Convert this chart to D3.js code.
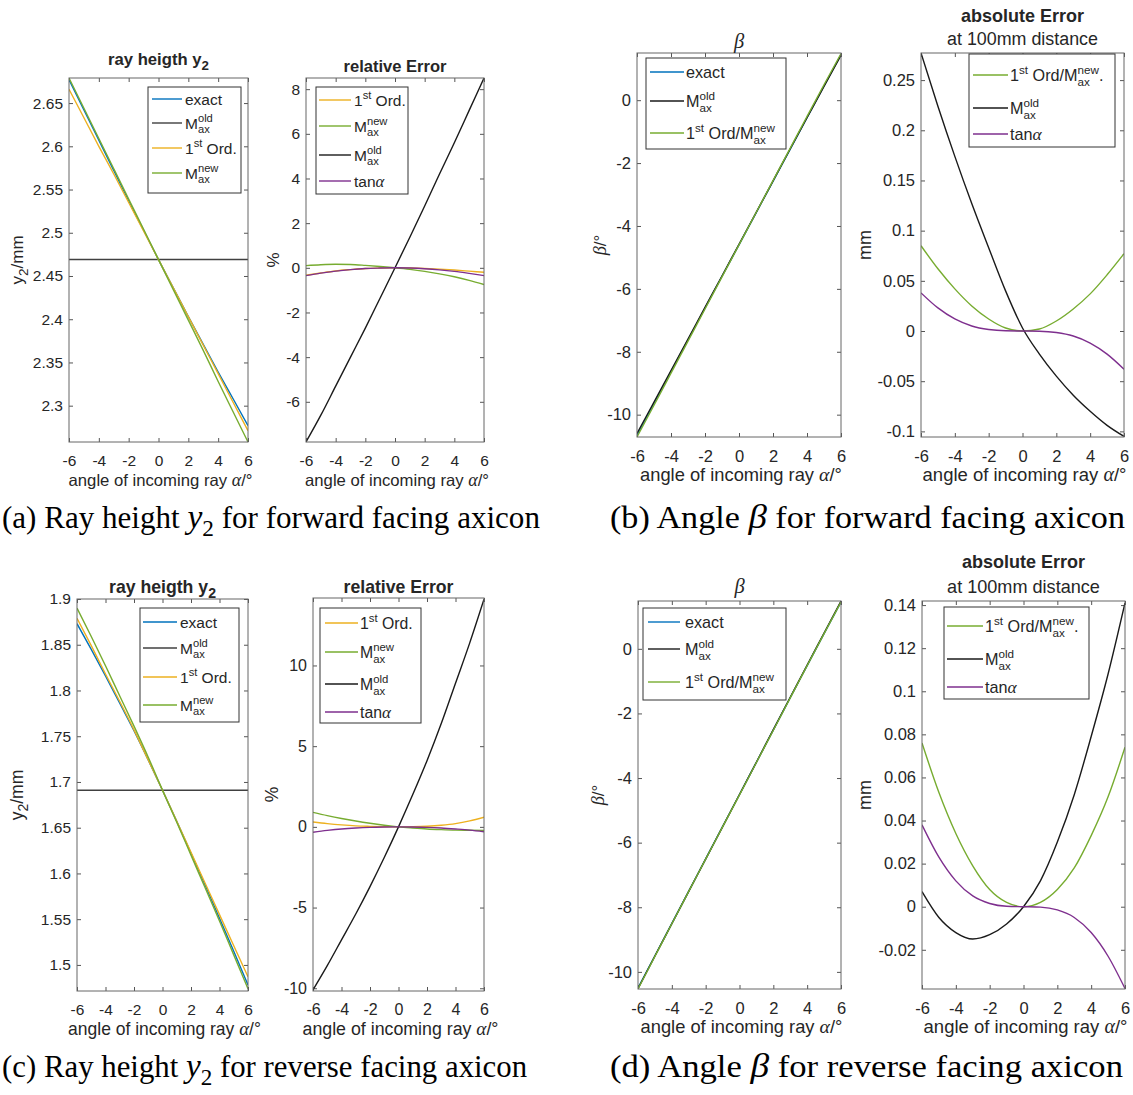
<!DOCTYPE html>
<html><head><meta charset="utf-8">
<script src="https://cdn.jsdelivr.net/npm/d3@7"></script>
<style>body{margin:0;background:#fff}svg{display:block}svg text{white-space:pre}</style>
</head><body>
<svg id="c" width="1133" height="1095"></svg>
<script>
// ---------------- DATA ----------------
const alpha = [-6,-5,-4,-3,-2,-1,0,1,2,3,4,5,6];
const xTicks = [-6,-4,-2,0,2,4,6];

// (a) forward facing axicon: ray height y2 / mm
const fwdY2Exact = [2.677,2.642,2.607,2.572,2.537,2.503,2.469,2.436,2.403,2.371,2.339,2.308,2.277];
const fwdY2Old   = [2.469,2.469,2.469,2.469,2.469,2.469,2.469,2.469,2.469,2.469,2.469,2.469,2.469];
const fwdY2First = [2.666,2.633,2.600,2.568,2.535,2.502,2.469,2.436,2.403,2.370,2.337,2.304,2.271];
const fwdY2New   = [2.679,2.644,2.609,2.574,2.539,2.504,2.469,2.434,2.399,2.364,2.328,2.293,2.258];
const fwdY2Ticks = [2.3,2.35,2.4,2.45,2.5,2.55,2.6,2.65];
// (a) relative error %
const fwdRelFirst = [-0.33,-0.23,-0.14,-0.08,-0.03,-0.01,0,-0.01,-0.03,-0.06,-0.10,-0.15,-0.20];
const fwdRelNew   = [0.10,0.14,0.16,0.15,0.11,0.06,0,-0.07,-0.16,-0.27,-0.40,-0.56,-0.75];
const fwdRelOld   = [-7.8,-6.6,-5.3,-4.0,-2.7,-1.35,0,1.37,2.77,4.2,5.6,7.05,8.5];
const fwdRelTan   = [-0.35,-0.24,-0.15,-0.08,-0.03,-0.01,0,-0.01,-0.04,-0.09,-0.16,-0.25,-0.35];
const fwdRelTicks = [-6,-4,-2,0,2,4,6,8];
// (b) forward facing axicon: beta / deg
const fwdBetaExact = [-10.65,-9.64,-8.63,-7.62,-6.61,-5.60,-4.60,-3.59,-2.58,-1.57,-0.56,0.45,1.45];
const fwdBetaOld   = [-10.60,-9.60,-8.60,-7.60,-6.59,-5.59,-4.58,-3.58,-2.57,-1.56,-0.56,0.44,1.43];
const fwdBetaNew   = [-10.71,-9.70,-8.68,-7.66,-6.64,-5.62,-4.60,-3.58,-2.56,-1.54,-0.52,0.49,1.48];
const fwdBetaTicks = [-10,-8,-6,-4,-2,0];
// (b) absolute error mm at 100mm
const fwdAbsNew = [0.085,0.062,0.042,0.025,0.012,0.003,0,0.002,0.010,0.022,0.037,0.056,0.077];
const fwdAbsOld = [0.277,0.224,0.174,0.127,0.083,0.040,0.003,-0.023,-0.045,-0.064,-0.080,-0.094,-0.105];
const fwdAbsTan = [0.038,0.023,0.012,0.005,0.0015,0.0002,0,-0.0002,-0.0015,-0.005,-0.012,-0.023,-0.038];
const fwdAbsTicks = [-0.1,-0.05,0,0.05,0.1,0.15,0.2,0.25];

// (c) reverse facing axicon: ray height y2 / mm
const revY2Exact = [1.873,1.845,1.816,1.786,1.756,1.724,1.691,1.657,1.622,1.587,1.551,1.515,1.478];
const revY2Old   = [1.691,1.691,1.691,1.691,1.691,1.691,1.691,1.691,1.691,1.691,1.691,1.691,1.691];
const revY2First = [1.879,1.849,1.818,1.788,1.757,1.724,1.691,1.657,1.623,1.589,1.555,1.521,1.487];
const revY2New   = [1.890,1.859,1.827,1.794,1.761,1.727,1.691,1.656,1.620,1.584,1.548,1.511,1.474];
const revY2Ticks = [1.5,1.55,1.6,1.65,1.7,1.75,1.8,1.85,1.9];
// (c) relative error %
const revRelFirst = [0.30,0.20,0.12,0.06,0.03,0.01,0,0.01,0.04,0.10,0.20,0.37,0.60];
const revRelNew   = [0.90,0.70,0.52,0.36,0.22,0.10,0,-0.07,-0.13,-0.17,-0.20,-0.21,-0.22];
const revRelOld   = [-10.1,-8.6,-7.0,-5.4,-3.7,-1.9,0,2.0,4.1,6.4,8.9,11.4,14.1];
const revRelTan   = [-0.33,-0.22,-0.13,-0.07,-0.03,-0.01,0,-0.01,-0.03,-0.07,-0.13,-0.20,-0.30];
const revRelTicks = [-10,-5,0,5,10];
// (d) reverse facing axicon: beta / deg
const revBetaExact = [-10.50,-9.50,-8.50,-7.50,-6.50,-5.50,-4.51,-3.51,-2.51,-1.51,-0.52,0.47,1.45];
const revBetaOld   = [-10.52,-9.51,-8.51,-7.51,-6.51,-5.51,-4.51,-3.51,-2.50,-1.50,-0.50,0.49,1.48];
const revBetaNew   = [-10.53,-9.52,-8.51,-7.51,-6.51,-5.51,-4.52,-3.52,-2.52,-1.52,-0.52,0.47,1.45];
const revBetaTicks = [-10,-8,-6,-4,-2,0];
// (d) absolute error mm at 100mm
const revAbsNew = [0.076,0.053,0.034,0.019,0.008,0.002,0,0.002,0.008,0.018,0.033,0.051,0.074];
const revAbsOld = [0.007,-0.005,-0.012,-0.015,-0.013,-0.008,0,0.012,0.030,0.052,0.079,0.108,0.141];
const revAbsTan = [0.038,0.023,0.012,0.005,0.0015,0.0002,0,-0.0002,-0.0015,-0.005,-0.012,-0.023,-0.038];
const revAbsTicks = [-0.02,0,0.02,0.04,0.06,0.08,0.1,0.12,0.14];

// legend labels (rich text segments)
const lblExact = [{t:"exact"}];
const lblOld   = [{t:"M"},{sup:"old",sub:"ax"}];
const lblNew   = [{t:"M"},{sup:"new",sub:"ax"}];
const lblFirst = [{t:"1"},{sup:"st"},{t:" Ord."}];
const lblFirstNew = [{t:"1"},{sup:"st"},{t:" Ord/M"},{sup:"new",sub:"ax"}];
const lblFirstNewDot = [{t:"1"},{sup:"st"},{t:" Ord/M"},{sup:"new",sub:"ax"},{t:"."}];
const lblTan   = [{t:"tan"},{it:"α"}];

// ---------------- STYLE ----------------
const C = {blue:"#0072BD", yellow:"#EDB120", green:"#77AC30", purple:"#7E2F8E", black:"#1a1a1a"};
const SANS = "'Liberation Sans', Arial, Helvetica, sans-serif";
const SERIF = "'Liberation Serif', 'Times New Roman', serif";
const TXT = "#262626";

const svg = d3.select("#c");
let clipId = 0;

function rich(parent, x, y, segs, o) {
  o = o || {};
  const fs = o.size || 15;
  const g = parent.append("g");
  let cx = x;
  segs.forEach(s => {
    if (s.t !== undefined || s.it !== undefined) {
      const t = g.append("text").attr("x", cx).attr("y", y).attr("font-size", fs)
        .attr("font-family", o.family || SANS).attr("fill", o.color || TXT)
        .text(s.t !== undefined ? s.t : s.it);
      if (s.it !== undefined) t.attr("font-family", SERIF).attr("font-style", "italic").attr("font-size", fs * 1.08);
      if (o.bold && s.it === undefined) t.attr("font-weight", "bold");
      cx += t.node().getComputedTextLength();
    } else {
      let w = 0;
      const small = fs * (s.scale || 0.72);
      if (s.sup) {
        const t = g.append("text").attr("x", cx).attr("y", y - fs * 0.42).attr("font-size", small)
          .attr("font-family", o.family || SANS).attr("fill", o.color || TXT).text(s.sup);
        if (o.bold) t.attr("font-weight", "bold");
        w = Math.max(w, t.node().getComputedTextLength());
      }
      if (s.sub) {
        const t = g.append("text").attr("x", cx).attr("y", y + fs * (s.low || 0.32)).attr("font-size", small)
          .attr("font-family", o.family || SANS).attr("fill", o.color || TXT).text(s.sub);
        if (o.bold) t.attr("font-weight", "bold");
        w = Math.max(w, t.node().getComputedTextLength());
      }
      cx += w;
    }
  });
  return {g, w: cx - x};
}
function fitSize(segs, o, target) {
  const probe = rich(svg, 0, -200, segs, Object.assign({}, o, {size: 20}));
  const w = probe.w; probe.g.remove();
  return 20 * target / w;
}
function richCentered(parent, cx, y, segs, o, target) {
  if (target) o = Object.assign({}, o, {size: fitSize(segs, o, target)});
  const r = rich(parent, 0, y, segs, o);
  r.g.attr("transform", `translate(${cx - r.w / 2},0)`);
  return r;
}

function panel(p) {
  const xs = d3.scaleLinear().domain([-6, 6]).range([p.x0, p.x1]);
  const ys = d3.scaleLinear().domain(p.yDomain).range([p.y1, p.y0]);
  const g = svg.append("g");
  const id = "clip" + (clipId++);
  g.append("clipPath").attr("id", id).append("rect")
    .attr("x", p.x0).attr("y", p.y0 - 1).attr("width", p.x1 - p.x0).attr("height", p.y1 - p.y0 + 2);

  const fs = p.fs;
  const ax = [
    [d3.axisBottom(xs).tickValues(xTicks).tickFormat(d => String(d)), p.y1, 13],
    [d3.axisTop(xs).tickValues(xTicks).tickFormat(""), p.y0, 0],
  ];
  ax.forEach(([a, y, pad]) => {
    const ag = g.append("g").attr("transform", `translate(0,${y})`)
      .call(a.tickSizeInner(-4).tickSizeOuter(0).tickPadding(pad));
    ag.select(".domain").remove();
    ag.selectAll("line").attr("stroke", "#555");
    ag.selectAll("text").attr("font-size", fs).attr("font-family", SANS).attr("fill", TXT);
  });
  const ay = [
    [d3.axisLeft(ys).tickValues(p.yTicks).tickFormat(d => String(+d.toFixed(3))), p.x0, 6],
    [d3.axisRight(ys).tickValues(p.yTicks).tickFormat(""), p.x1, 0],
  ];
  ay.forEach(([a, x, pad]) => {
    const ag = g.append("g").attr("transform", `translate(${x},0)`)
      .call(a.tickSizeInner(-4).tickSizeOuter(0).tickPadding(pad));
    ag.select(".domain").remove();
    ag.selectAll("line").attr("stroke", "#555");
    ag.selectAll("text").attr("font-size", fs).attr("font-family", SANS).attr("fill", TXT);
  });

  const line = d3.line().x((d, i) => xs(alpha[i])).y(d => ys(d)).curve(d3.curveMonotoneX);
  const lg = g.append("g").attr("clip-path", `url(#${id})`);
  p.series.forEach(s => {
    lg.append("path").attr("d", line(s.v)).attr("fill", "none")
      .attr("stroke", s.c).attr("stroke-width", 1.4);
  });

  g.append("rect").attr("x", p.x0).attr("y", p.y0).attr("width", p.x1 - p.x0).attr("height", p.y1 - p.y0)
    .attr("fill", "none").attr("stroke", "#666").attr("stroke-width", 1);

  const L = p.legend;
  g.append("rect").attr("x", L.box[0]).attr("y", L.box[1]).attr("width", L.box[2] - L.box[0])
    .attr("height", L.box[3] - L.box[1]).attr("fill", "#fff").attr("stroke", "#333").attr("stroke-width", 1);
  L.items.forEach((it, i) => {
    const y = L.ys[i];
    g.append("line").attr("x1", L.sx[0]).attr("x2", L.sx[1]).attr("y1", y).attr("y2", y)
      .attr("stroke", it.c).attr("stroke-width", 1.4);
    rich(g, L.tx, y + 5.5, it.l, {size: p.lfs});
  });

  richCentered(g, (p.x0 + p.x1) / 2 + 2, p.y1 + 44,
    [{t:"angle of incoming ray "},{it:"α"},{t:"/°"}], {}, p.xlw);
  const yl = g.append("g").attr("transform", `translate(${p.ylx},${(p.y0 + p.y1) / 2 + (p.yldy || 0)}) rotate(-90)`);
  richCentered(yl, 0, 0, p.ylabel, {size: p.ylfs || 16.5});
  p.titles.forEach(t => richCentered(g, (p.x0 + p.x1) / 2 + (t.dx || 0), t.y, t.segs,
    {size: t.size || 16, bold: t.bold}, t.w));
}

const y2Label = [{t:"y"},{sub:"2", low:0.3, scale:0.8},{t:"/mm"}];
const betaLabel = [{it:"β"},{t:"/°"}];
const titleY2 = [{t:"ray heigth y"},{sub:"2", low:0.3, scale:0.8}];

// ---------- panels ----------
panel({x0:69, x1:248, y0:78, y1:442, yDomain:[2.258, 2.679], yTicks:fwdY2Ticks, fs:15.5, lfs:15.5, xlw:184,
  series:[{v:fwdY2Exact,c:C.blue},{v:fwdY2Old,c:"#404040"},{v:fwdY2First,c:C.yellow},{v:fwdY2New,c:C.green}],
  legend:{box:[148,87,241,193], ys:[99,123,148,173], sx:[152,182], tx:185,
    items:[{l:lblExact,c:C.blue},{l:lblOld,c:"#404040"},{l:lblFirst,c:C.yellow},{l:lblNew,c:C.green}]},
  ylabel:y2Label, ylfs:17, ylx:23, titles:[{segs:titleY2, y:65, bold:true, w:101}]});

panel({x0:306, x1:484, y0:78, y1:442, yDomain:[-7.8, 8.5], yTicks:fwdRelTicks, fs:15.5, lfs:15.5, xlw:184,
  series:[{v:fwdRelFirst,c:C.yellow},{v:fwdRelNew,c:C.green},{v:fwdRelOld,c:C.black},{v:fwdRelTan,c:C.purple}],
  legend:{box:[316,87,408,194], ys:[100,126,155,181], sx:[319,351], tx:354,
    items:[{l:lblFirst,c:C.yellow},{l:lblNew,c:C.green},{l:lblOld,c:C.black},{l:lblTan,c:C.purple}]},
  ylabel:[{t:"%"}], ylfs:17, ylx:279, titles:[{segs:[{t:"relative Error"}], y:72, bold:true, w:103}]});

panel({x0:637, x1:841, y0:53, y1:437, yDomain:[-10.71, 1.5], yTicks:fwdBetaTicks, fs:16.5, lfs:16.2, xlw:202,
  series:[{v:fwdBetaExact,c:C.blue},{v:fwdBetaOld,c:C.black},{v:fwdBetaNew,c:C.green}],
  legend:{box:[646,58,786,149], ys:[72,101,133], sx:[650,684], tx:686,
    items:[{l:lblExact,c:C.blue},{l:lblOld,c:C.black},{l:lblFirstNew,c:C.green}]},
  ylabel:betaLabel, ylfs:17, ylx:606, titles:[{segs:[{it:"β"}], y:48, size:19}]});

panel({x0:921, x1:1124, y0:53, y1:437, yDomain:[-0.1056, 0.277], yTicks:fwdAbsTicks, fs:16.5, lfs:16.2, xlw:204,
  series:[{v:fwdAbsNew,c:C.green},{v:fwdAbsOld,c:C.black},{v:fwdAbsTan,c:C.purple}],
  legend:{box:[969,54,1115,147], ys:[75,108,134], sx:[973,1008], tx:1010,
    items:[{l:lblFirstNewDot,c:C.green},{l:lblOld,c:C.black},{l:lblTan,c:C.purple}]},
  ylabel:[{t:"mm"}], ylfs:18, ylx:871,
  titles:[{segs:[{t:"absolute Error"}], y:22, bold:true, w:123},{segs:[{t:"at 100mm distance"}], y:45, w:151}]});

panel({x0:77, x1:248, y0:599, y1:991, yDomain:[1.4715, 1.9], yTicks:revY2Ticks, fs:15.5, lfs:15.5, xlw:193,
  series:[{v:revY2Exact,c:C.blue},{v:revY2Old,c:"#404040"},{v:revY2First,c:C.yellow},{v:revY2New,c:C.green}],
  legend:{box:[140,608,239,722], ys:[622,648,677,705], sx:[143,177], tx:180,
    items:[{l:lblExact,c:C.blue},{l:lblOld,c:"#404040"},{l:lblFirst,c:C.yellow},{l:lblNew,c:C.green}]},
  ylabel:y2Label, ylfs:17.5, ylx:23, titles:[{segs:titleY2, y:593, bold:true, w:107}]});

panel({x0:313, x1:484, y0:598, y1:991, yDomain:[-10.17, 14.18], yTicks:revRelTicks, fs:16, lfs:15.8, xlw:196,
  series:[{v:revRelFirst,c:C.yellow},{v:revRelNew,c:C.green},{v:revRelOld,c:C.black},{v:revRelTan,c:C.purple}],
  legend:{box:[320,608,421,723], ys:[623,652,684,712], sx:[325,358], tx:360,
    items:[{l:lblFirst,c:C.yellow},{l:lblNew,c:C.green},{l:lblOld,c:C.black},{l:lblTan,c:C.purple}]},
  ylabel:[{t:"%"}], ylfs:17.5, ylx:278, titles:[{segs:[{t:"relative Error"}], y:593, bold:true, w:110}]});

panel({x0:638, x1:841, y0:601, y1:989, yDomain:[-10.53, 1.48], yTicks:revBetaTicks, fs:16.5, lfs:16.2, xlw:202,
  series:[{v:revBetaExact,c:C.blue},{v:revBetaOld,c:C.black},{v:revBetaNew,c:C.green}],
  legend:{box:[643,608,786,700], ys:[622,649,682], sx:[648,680], tx:685,
    items:[{l:lblExact,c:C.blue},{l:lblOld,c:C.black},{l:lblFirstNew,c:C.green}]},
  ylabel:betaLabel, ylfs:17, ylx:604, titles:[{segs:[{it:"β"}], y:593, size:19}]});

panel({x0:922, x1:1125, y0:601, y1:989, yDomain:[-0.0382, 0.1419], yTicks:revAbsTicks, fs:16.5, lfs:16.2, xlw:204,
  series:[{v:revAbsNew,c:C.green},{v:revAbsOld,c:C.black},{v:revAbsTan,c:C.purple}],
  legend:{box:[944,607,1089,699], ys:[626,659,687], sx:[947,983], tx:985,
    items:[{l:lblFirstNewDot,c:C.green},{l:lblOld,c:C.black},{l:lblTan,c:C.purple}]},
  ylabel:[{t:"mm"}], ylfs:18, ylx:871,
  titles:[{segs:[{t:"absolute Error"}], y:568, bold:true, w:123},{segs:[{t:"at 100mm distance"}], y:593, w:153}]});

// ---------- captions ----------
const capA = [{t:"(a) Ray height "},{it:"y"},{sub:"2", low:0.25, scale:0.75},{t:" for forward facing axicon"}];
const capB = [{t:"(b) Angle "},{it:"β"},{t:" for forward facing axicon"}];
const capC = [{t:"(c) Ray height "},{it:"y"},{sub:"2", low:0.25, scale:0.75},{t:" for reverse facing axicon"}];
const capD = [{t:"(d) Angle "},{it:"β"},{t:" for reverse facing axicon"}];
const capOpt = {family: SERIF, color: "#000"};
const capSize = fitSize(capA, capOpt, 538);
// [segments, left x, baseline y, target width]
[[capA, 2, 528, 538], [capB, 610, 528, 515], [capC, 2, 1077, 525], [capD, 610, 1077, 513]].forEach(([s, x, y, w]) => {
  const r = rich(svg, 0, y, s, Object.assign({}, capOpt, {size: capSize}));
  r.g.attr("transform", `translate(${x},0) scale(${w / r.w},1)`);
});
</script>
</body></html>
